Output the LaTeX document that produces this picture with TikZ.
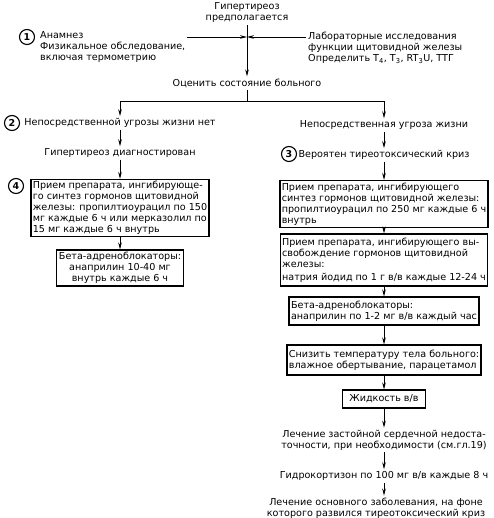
\documentclass[tikz,border=0pt]{standalone}
\usepackage{fontspec}
\setmainfont{DejaVu Sans}
\usetikzlibrary{arrows.meta}
\begin{document}
\begin{tikzpicture}[x=1pt,y=-1pt,
    every node/.style={font=\fontsize{9.6}{11}\selectfont, inner sep=2pt},
    box/.style={draw, line width=1.1pt, align=left, inner sep=1.8pt},
    lbl/.style={align=center},
    num/.style={draw, circle, line width=1.1pt, inner sep=0pt, minimum size=15pt,
      font=\bfseries\fontsize{9.5}{9.5}\selectfont},
    arr/.style={-{Stealth[length=7pt,width=3.6pt]}, line width=0.8pt}]
  \useasboundingbox (0,0) rectangle (493,518);
  \draw
    (247,13) node[lbl] (susp) {Гипертиреоз\\предполагается}
    (27,37) node[num] (c1) {1}
    (38,47) node[anchor=west, align=left] (hist) {Анамнез\\Физикальное обследование,\\включая термометрию}
    (306,48) node[anchor=west, align=left] (lab) {Лабораторные исследования\\функции щитовидной железы\\Определить T\textsubscript{4}, T\textsubscript{3}, RT\textsubscript{3}U, TTГ}
    (247,83) node[lbl] (eval) {Оценить состояние больного}
    (12,123) node[num] (c2) {2}
    (120,123) node[lbl] (nothreat) {Непосредственной угрозы жизни нет}
    (384,125) node[lbl] (threat) {Непосредственная угроза жизни}
    (120,153) node[lbl] (diag) {Гипертиреоз диагностирован}
    (16,186) node[num] (c4) {4}
    (120,208) node[box, minimum width=173, minimum height=55] (box4) {Прием препарата, ингибирующе-\\го синтез гормонов щитовидной\\железы: пропилтиоурацил по 150\\мг каждые 6 ч или мерказолил по\\15 мг каждые 6 ч внутрь}
    (120,268) node[box, align=center, minimum width=127, minimum height=36] (beta1) {Бета-адреноблокаторы:\\анаприлин 10-40 мг\\внутрь каждые 6 ч}
    (289,154) node[num] (c3) {3}
    (384,155) node[lbl] (crisis) {Вероятен тиреотоксический криз}
    (384,204) node[box, minimum width=206, minimum height=47] (boxA) {Прием препарата, ингибирующего\\синтез гормонов щитовидной железы:\\пропилтиоурацил по 250 мг каждые 6 ч\\внутрь}
    (384,260) node[box, minimum width=205, minimum height=52] (boxB) {Прием препарата, ингибирующего вы-\\свобождение гормонов щитовидной\\железы:\\[2pt]натрия йодид по 1 г в/в каждые 12-24 ч}
    (384,311) node[box, minimum width=190, minimum height=28] (boxC) {Бета-адреноблокаторы:\\анаприлин по 1-2 мг в/в каждый час}
    (384,360) node[box, minimum width=191, minimum height=30] (boxD) {Снизить температуру тела больного:\\влажное обертывание, парацетамол}
    (384,399) node[box, minimum width=83, minimum height=18] (fluid) {Жидкость в/в}
    (384,440) node[lbl] (chf) {Лечение застойной сердечной недоста-\\точности, при необходимости (см.гл.19)}
    (384,476) node[lbl] (hydro) {Гидрокортизон по 100 мг в/в каждые 8 ч}
    (376,508) node[lbl] (basic) {Лечение основного заболевания, на фоне\\которого развился тиреотоксический криз};
  \coordinate (join) at (247,37);
  \coordinate (fork) at (247,101);
  \begin{scope}[arr]
    \draw (hist.east |- join) to (join);
    \draw (lab.west |- join) to (join);
    \draw (susp) to (eval);
    \draw[-] (eval) to (fork);
    \draw (fork) -| (nothreat);
    \draw (fork) -| (threat);
    \draw (nothreat) to (diag);
    \draw (diag) to (box4);
    \draw (box4) to (beta1);
    \draw (threat) to (crisis);
    \draw (crisis) to (boxA);
    \draw (boxA) to (boxB);
    \draw (boxB) to (boxC);
    \draw (boxC) to (boxD);
    \draw (boxD) to (fluid);
    \draw (fluid) to (chf);
    \draw (chf) to (hydro);
    \draw (hydro) to (basic.north -| hydro);
  \end{scope}
\end{tikzpicture}
\end{document}
